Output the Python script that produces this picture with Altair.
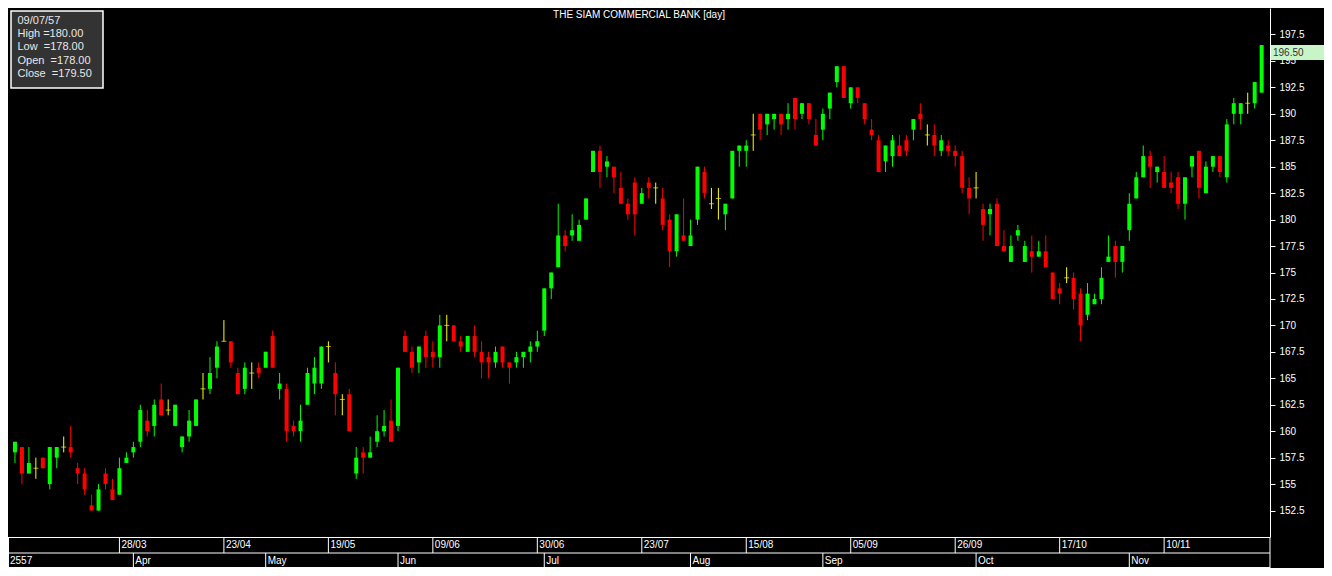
import altair as alt
import pandas as pd

# ---- candle data (one row per trading day) ----
opens = [
    158, 158.5, 156, 156.5, 157.5, 155, 157.5, 158.5, 158.5, 156.5, 156, 153, 152.5, 156, 154.5, 154, 157, 158,
    159, 161, 160.5, 163, 162, 160.5, 158.5, 159.5, 160.5, 164, 164, 166, 168.5, 168.5, 165.5, 164, 165.5, 166,
    166, 169, 164, 164, 160.5, 160, 162.5, 164.5, 164.5, 168, 165.5, 163, 163.5, 156, 158, 157.5, 159, 160, 161,
    160.5, 169, 167.5, 166.5, 169, 167.5, 167, 170, 170, 168.5, 167.5, 169, 167.5, 167, 166.5, 168, 166.5, 166.5, 167, 167.5, 168, 169.5,
    173.5, 175.5, 178.5, 178.5, 178, 180, 184.5, 186.5, 185, 185, 183, 181.5, 183.5, 181.5, 183.5, 183, 182, 180, 177,
    178.5, 177.5, 180, 184.5, 181.5, 182, 180.5, 182, 186.5, 186.5, 188, 190, 189, 189.5, 190, 189.5, 191.5,
    190, 191, 188, 188.5, 190.5, 193, 194.5, 191, 192.5, 191, 188.5, 187.5,
    185.5, 186, 187, 187.5, 188.5, 190, 188, 188, 186.5, 187, 186.5, 186, 183, 183, 181, 180.5, 181.5, 177.5, 176,
    178.5, 176, 177, 176.5, 177, 175, 173.5, 174.5, 174.5, 173, 171, 172, 172.5, 176, 177.5, 176,
    179, 182, 184, 186, 184.5, 184.5, 183.5, 184, 181.5, 185, 186.5, 182.5, 185, 186, 184, 190, 190, 191, 191, 192,
]
highs = [
    159, 158.5, 158.5, 157.5, 157.5, 158.5, 158.5, 159.5, 160.5, 157, 156.5, 154, 155, 156.5, 155.5, 157.5, 158, 159,
    162.5, 162, 163, 164.5, 163, 162.5, 159.5, 162, 163, 165.5, 167, 168.5, 170.5, 168.5, 166, 166.5, 166.5, 166.5,
    167.5, 169.5, 165.5, 164.5, 161, 162.5, 166, 167, 168, 168.5, 166.5, 163.5, 164, 158.5, 158.5, 159.5, 161.5, 162, 163,
    166, 169.5, 168, 168, 169.5, 168.5, 171, 171, 170, 169, 169, 170, 168.5, 167.5, 168, 168, 166.5, 167.5, 167.5, 168.5, 169.5, 173.5,
    175, 181.5, 179, 180.5, 180, 182, 186.5, 187, 186, 185, 184.5, 182, 184, 183, 184, 183.5, 183, 180.5, 180.5,
    182, 180, 185, 185, 183, 183, 181.5, 186.5, 187, 187.5, 190, 190, 190, 190, 190, 191, 191.5,
    191, 191, 189.5, 190.5, 192, 194.5, 194.5, 192.5, 192.5, 191, 189.5, 188,
    187, 188, 188, 188, 189.5, 191, 189, 189, 188, 187.5, 187, 186.5, 184, 184.5, 181.5, 181.5, 182, 179, 178.5,
    179.5, 178, 178.5, 178, 178.5, 175, 174, 175.5, 175, 173.5, 174, 173, 175.5, 178.5, 178, 177.5,
    182.5, 184.5, 187, 186.5, 185, 186, 184.5, 184.5, 184, 186, 186.5, 185.5, 186, 186, 189.5, 191.5, 191, 192, 193, 196.5,
]
lows = [
    157, 155, 156, 155.5, 156.5, 154.5, 156.5, 158, 157.5, 155, 154, 152.5, 152.5, 154.5, 153.5, 154, 157, 157.5,
    158.5, 159.5, 159.5, 161.5, 161.5, 160.5, 158, 159, 160.5, 163, 163.5, 165, 168.5, 166, 163.5, 163.5, 164, 165,
    166, 166, 163, 159, 159.5, 159, 162.5, 163.5, 164, 166.5, 161.5, 161.5, 160, 155.5, 156, 157.5, 158.5, 159.5, 159,
    160, 167.5, 165.5, 165.5, 166, 166, 166, 168.5, 168.5, 167.5, 167.5, 167, 165, 165, 166, 166, 164.5, 166, 166, 166.5, 167.5, 169,
    172.5, 175.5, 177, 178, 178, 180, 184.5, 183, 184, 182.5, 181.5, 180, 178.5, 181.5, 182, 181.5, 179, 175.5, 176.5,
    178, 177.5, 179.5, 182, 181, 180, 179, 182, 185, 185, 186.5, 187.5, 188, 188.5, 188, 188.5, 188.5,
    189.5, 189, 187, 187.5, 189.5, 192.5, 191.5, 190.5, 191, 189, 187.5, 184.5,
    184.5, 185, 186, 186, 187.5, 188.5, 187, 186, 186, 186, 185, 182.5, 180.5, 182, 178, 178.5, 177.5, 177, 176,
    178, 176, 175, 176.5, 175.5, 172.5, 172, 174, 171.5, 168.5, 170.5, 172, 172, 176, 174.5, 175,
    178, 182, 184, 183, 183.5, 183, 182.5, 181, 180, 184, 182, 182.5, 184.5, 184, 183.5, 189, 189, 190, 190.5, 192,
]
closes = [
    159, 156, 157, 156.5, 156.5, 158.5, 158.5, 158.5, 158, 156, 154.5, 152.5, 154.5, 155, 153.5, 156.5, 157.5, 158.5,
    162, 160, 162.5, 161.5, 162, 162.5, 159.5, 161, 163, 164, 165.5, 168, 168.5, 166.5, 163.5, 166, 165.5, 165.5,
    167.5, 166, 164.5, 160, 160, 161, 165.5, 166, 168, 168, 163.5, 163, 160, 157.5, 157.5, 158, 160, 160.5, 159,
    166, 167.5, 166, 168, 167, 167, 170, 170, 168.5, 168, 169, 167.5, 166.5, 166.5, 167.5, 166.5, 166, 167, 167.5, 168, 168.5, 173.5,
    175, 178.5, 177.5, 179, 179.5, 182, 186.5, 184.5, 185.5, 184, 181.5, 180.5, 180.5, 182.5, 183, 183, 179.5, 177, 180.5,
    178, 178.5, 185, 182.5, 181.5, 182, 181.5, 186.5, 187, 187, 188, 188.5, 190, 190, 189, 190, 189.5,
    191, 189.5, 187, 190, 192, 194.5, 191.5, 192.5, 191.5, 189.5, 188, 184.5,
    187, 187.5, 186, 186.5, 189.5, 189.5, 188, 187, 187.5, 186.5, 186, 183, 182, 183, 179.5, 181, 177.5, 177, 177.5,
    179, 177.5, 176.5, 177, 175.5, 172.5, 173, 174.5, 172.5, 170, 173, 172.5, 174.5, 176.5, 176, 177.5,
    181.5, 184, 186, 185, 185, 183, 183, 181.5, 184, 186, 183, 185, 186, 184.5, 189, 191, 191, 191, 193, 196.5,
]

# ---- axis labels ----
day_tick_idx = [15, 30, 45, 60, 75, 90, 105, 120, 135, 150, 165]
day_tick_labels = ["28/03", "23/04", "19/05", "09/06", "30/06", "23/07",
                   "15/08", "05/09", "26/09", "17/10", "10/11"]
month_tick_idx = [-1, 17, 36, 55, 76, 97, 116, 138, 160]
month_tick_labels = ["2557", "Apr", "May", "Jun", "Jul", "Aug", "Sep", "Oct", "Nov"]
price_ticks = [152.5, 155, 157.5, 160, 162.5, 165, 167.5, 170, 172.5, 175,
               177.5, 180, 182.5, 185, 187.5, 190, 192.5, 195, 197.5]

title_text = "THE SIAM COMMERCIAL BANK [day]"
info_date = "09/07/57"
info_high, info_low, info_open, info_close = 180.00, 178.00, 178.00, 179.50

# ---- layout ----
W, H = 1262, 529
PAD_R, PAD_B = 54, 31
FONT = "Liberation Sans, Arial, Helvetica, sans-serif"
GREEN, RED, YELLOW = "#00ff00", "#ff0000", "#ffff00"
NB = "\u00a0"

n = len(closes)
df = pd.DataFrame({"i": list(range(n)), "o": opens, "h": highs, "l": lows, "c": closes})
df["dir"] = ["up" if c > o else ("down" if c < o else "doji") for o, c in zip(opens, closes)]

xscale = alt.Scale(domain=[-1, 180.2], nice=False, zero=False, padding=0)
yscale = alt.Scale(domain=[150, 200], nice=False, zero=False, padding=0)
cscale = alt.Scale(domain=["up", "down", "doji"], range=[GREEN, RED, YELLOW])

yaxis = alt.Axis(orient="right", values=price_ticks, format=".1~f", title=None,
                 grid=False, domainColor="white", tickColor="white", labelColor="white",
                 tickSize=5, labelPadding=4, labelFontSize=10, labelFont=FONT,
                 domainWidth=1, tickWidth=1)

X = alt.X("i:Q", scale=xscale, axis=None)
COL = alt.Color("dir:N", scale=cscale, legend=None)


def Y(field):
    return alt.Y(field, scale=yscale, axis=yaxis)


base = alt.Chart(df)

wick = base.mark_rule(strokeWidth=1).encode(
    x=X, y=Y("l:Q"), y2="h:Q", color=COL,
)

body = base.transform_filter("datum.dir != 'doji'").mark_bar(size=4).encode(
    x=X, y=Y("o:Q"), y2="c:Q", color=COL,
)

doji = base.transform_filter("datum.dir == 'doji'").mark_tick(
    orient="horizontal", size=5, thickness=1
).encode(
    x=X, y=Y("c:Q"), color=COL,
)

one = pd.DataFrame({"k": [0]})

# title
title = alt.Chart(one).mark_text(
    text=title_text, color="white", font=FONT, fontSize=10, align="center", baseline="middle"
).encode(x=alt.value(W / 2), y=alt.value(7))

# info box
info_lines = [
    info_date,
    "High" + NB + "=%.2f" % info_high,
    "Low" + NB * 2 + "=%.2f" % info_low,
    "Open" + NB * 2 + "=%.2f" % info_open,
    "Close" + NB * 2 + "=%.2f" % info_close,
]
info_box = alt.Chart(one).mark_rect(fill="#333333", stroke="white", strokeWidth=1.5).encode(
    x=alt.value(3), x2=alt.value(95), y=alt.value(3), y2=alt.value(80)
)
info_text = alt.Chart(one).mark_text(
    text=info_lines, color="#e8e8e8", font=FONT, fontSize=11, align="left",
    baseline="top", lineHeight=13.4
).encode(x=alt.value(9.5), y=alt.value(6.5))

# last price tag
tag_df = pd.DataFrame({"c": [closes[-1]]})
tag_rect = alt.Chart(tag_df).transform_calculate(b="datum.c - 1.42").mark_rect(
    fill="#c8f5c8"
).encode(
    x=alt.value(W + 1), x2=alt.value(W + PAD_R),
    y=Y("c:Q"), y2="b:Q",
)
tag_text = alt.Chart(tag_df).transform_calculate(label="format(datum.c, '.2f')").mark_text(
    color="#303030", font=FONT, fontSize=10, align="left", baseline="middle", dy=7.5
).encode(
    x=alt.value(W + 3), y=Y("c:Q"), text="label:N",
)


# bottom time bands
def hline(ypx):
    return alt.Chart(one).mark_rule(color="white", strokeWidth=1).encode(
        x=alt.value(0), x2=alt.value(W), y=alt.value(ypx)
    )


def vline(xpx):
    return alt.Chart(one).mark_rule(color="white", strokeWidth=1).encode(
        x=alt.value(xpx), y=alt.value(H), y2=alt.value(H + PAD_B)
    )


R1_TOP, R2_TOP, R_BOT = H + 0.5, H + 16, H + PAD_B - 0.5

day_df = pd.DataFrame({"i": day_tick_idx, "label": day_tick_labels})
mon_df = pd.DataFrame({"i": month_tick_idx, "label": month_tick_labels})

day_lines = alt.Chart(day_df).mark_rule(color="white", strokeWidth=1).encode(
    x=X, y=alt.value(R1_TOP), y2=alt.value(R2_TOP)
)
day_text = alt.Chart(day_df).mark_text(
    color="white", font=FONT, fontSize=10, align="left", baseline="middle", dx=2
).encode(x=X, y=alt.value(H + 8), text="label:N")

mon_lines = alt.Chart(mon_df).mark_rule(color="white", strokeWidth=1).encode(
    x=X, y=alt.value(R2_TOP), y2=alt.value(R_BOT)
)
mon_text = alt.Chart(mon_df).mark_text(
    color="white", font=FONT, fontSize=10, align="left", baseline="middle", dx=2
).encode(x=X, y=alt.value(H + 23.5), text="label:N")

chart = alt.layer(
    wick, body, doji,
    title, info_box, info_text,
    tag_rect, tag_text,
    hline(R1_TOP), hline(R2_TOP), hline(R_BOT), vline(0.5), vline(W),
    day_lines, day_text, mon_lines, mon_text,
).properties(
    width=W, height=H,
    autosize=alt.AutoSizeParams(type="none"),
    padding={"left": 0, "top": 0, "right": PAD_R, "bottom": PAD_B},
    background="black",
).configure_view(stroke=None)

chart.save("out.html", embed_options={"renderer": "svg", "actions": False})
